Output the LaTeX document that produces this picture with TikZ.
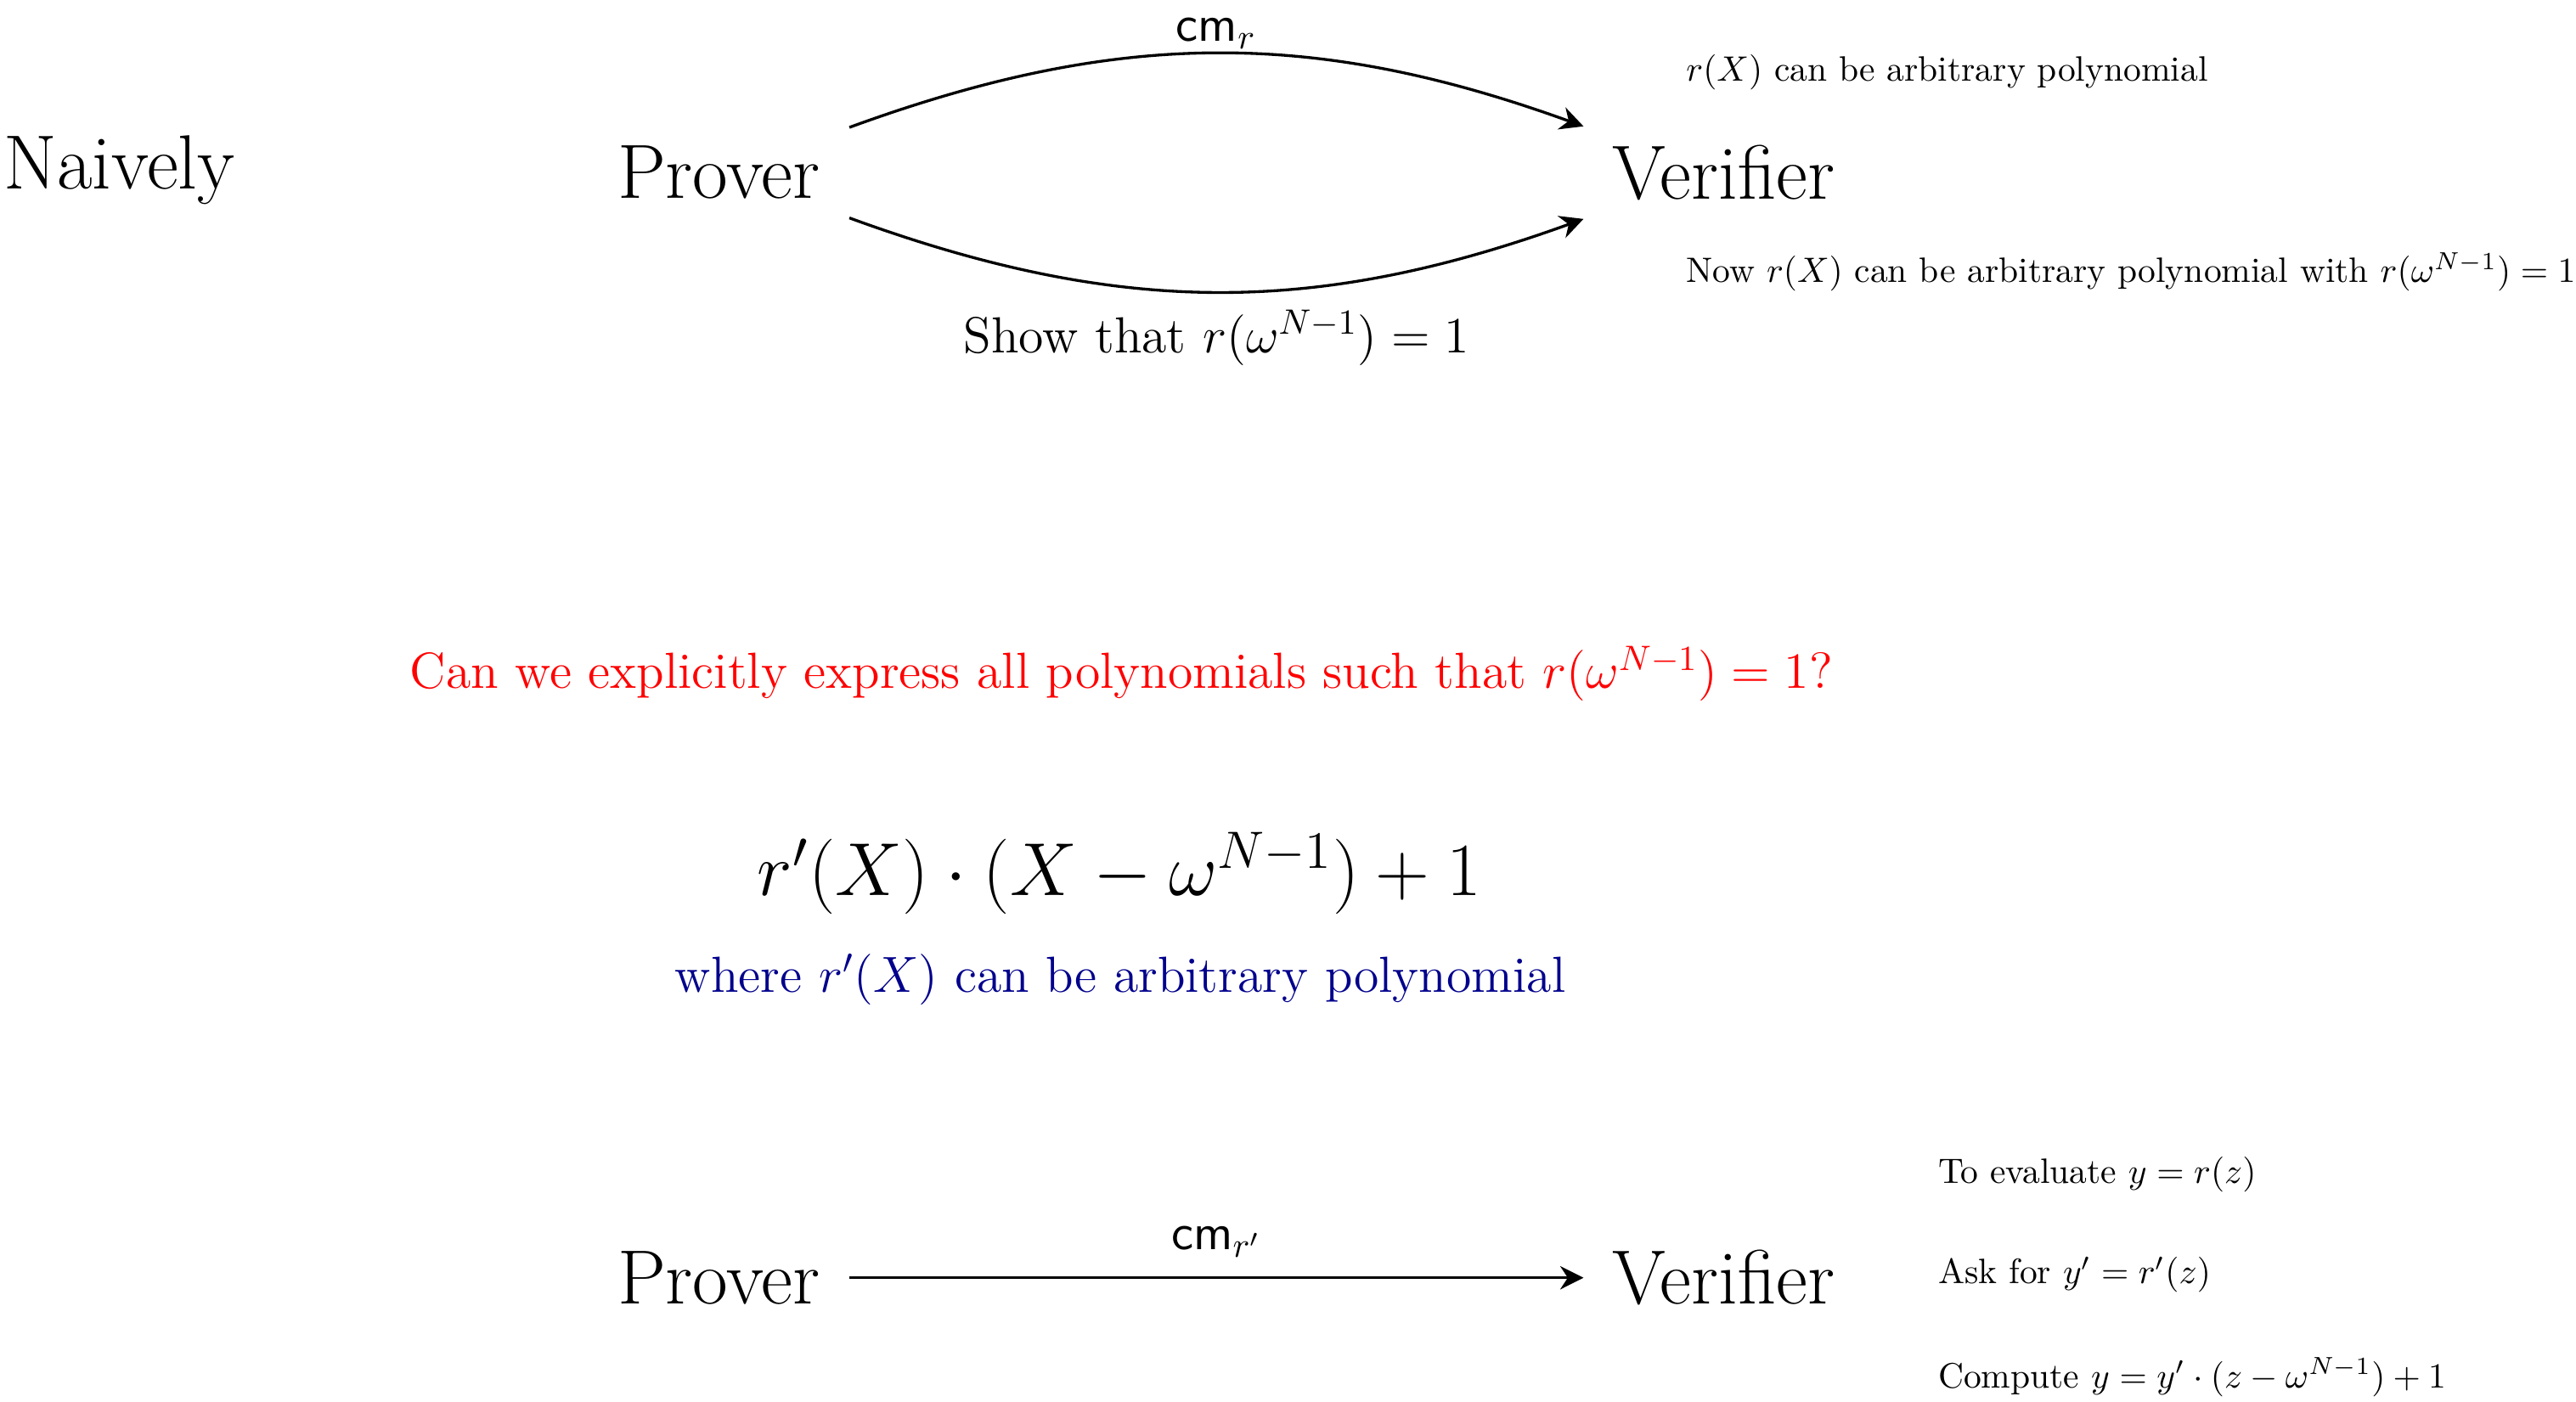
\RequirePackage{fix-cm}
\documentclass[tikz,border=0pt]{standalone}
\usepackage{amsmath}
\usetikzlibrary{positioning,arrows.meta}
\begin{document}
\begin{tikzpicture}[
  party/.style={font=\fontsize{21.8}{26}\selectfont, inner xsep=8.1pt, inner ysep=5.1pt},
  note/.style={anchor=west, inner sep=0pt},
  arrow/.style={->, thick, >={Stealth[length=6.6pt, width=6.6pt]}}
]
  \useasboundingbox (0,0) rectangle (25.66,-13.96);
  % first attempt
  \node[party, anchor=west, inner sep=0pt] (naive) at (0.03,-1.69) {Naively};
  \node[party] (p1) at (7.16,-1.72) {Prover};
  \node[party] (v1) at (17.17,-1.72) {Verifier};
  \draw[arrow] (p1.north east) to[bend left=20]
        node[above=-1pt, font=\Large, inner sep=2pt]{$\mathsf{cm}_r$} (v1.north west);
  \draw[arrow] (p1.south east) to[bend right=20]
        node[below=1.5pt, font=\Large]{Show that $r(\omega^{N-1})=1$} (v1.south west);
  \node[note] (n1) at (16.79,-0.72) {$r(X)$ can be arbitrary polynomial};
  \node[note] (n2) at (16.79,-2.71) {Now $r(X)$ can be arbitrary polynomial with $r(\omega^{N-1})=1$};

  % the question
  \node[font=\Large, text=red] (q) at (11.17,-6.71)
        {Can we explicitly express all polynomials such that $r(\omega^{N-1})=1$?};
  \node[font=\fontsize{21.3}{26}\selectfont] (f) at (11.15,-8.70) {$r'(X)\cdot(X-\omega^{N-1})+1$};
  \node[font=\Large, text=blue!55!black] (w) at (11.16,-9.76)
        {where $r'(X)$ can be arbitrary polynomial};

  % second attempt
  \node[party] (p2) at (7.16,-12.73) {Prover};
  \node[party] (v2) at (17.17,-12.73) {Verifier};
  \draw[arrow] (p2) -- node[above=2pt, font=\Large]{$\mathsf{cm}_{r'}$} (v2);
  \node[note] (e1) at (19.30,-11.70) {To evaluate $y=r(z)$};
  \node[note] (e2) at (19.30,-12.70) {Ask for $y'=r'(z)$};
  \node[note] (e3) at (19.30,-13.72) {Compute $y=y'\cdot(z-\omega^{N-1})+1$};
\end{tikzpicture}
\end{document}
